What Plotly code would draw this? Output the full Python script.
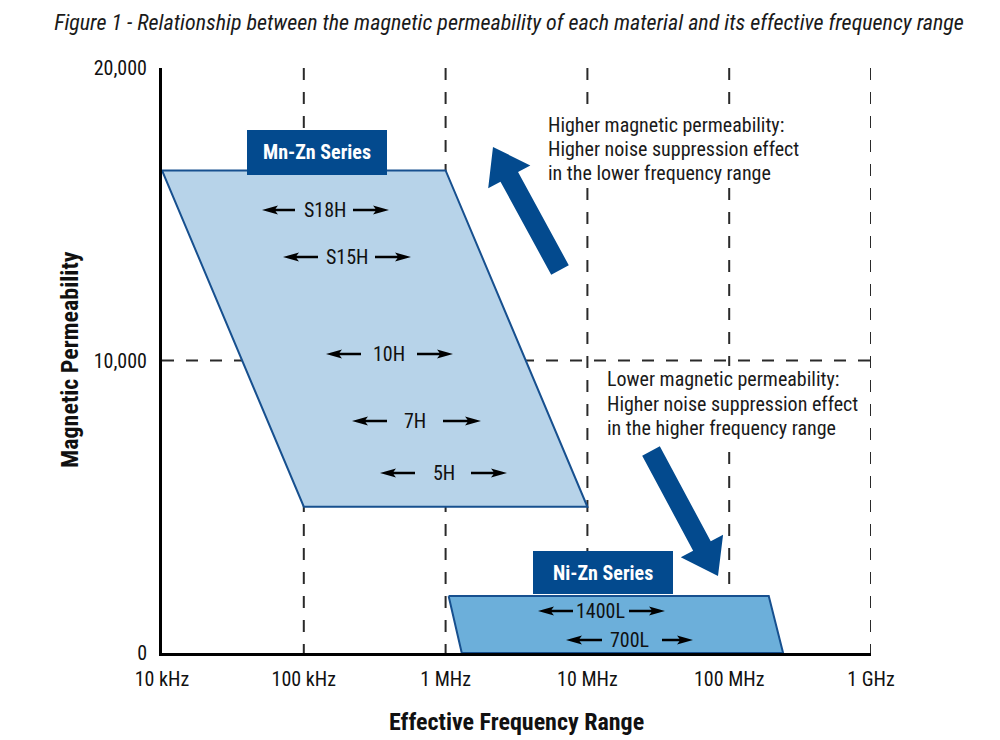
import math
import plotly.graph_objects as go

# ---------------- data ----------------
freq_tickvals = [1e4, 1e5, 1e6, 1e7, 1e8, 1e9]
freq_ticktext = ["10 kHz", "100 kHz", "1 MHz", "10 MHz", "100 MHz", "1 GHz"]
perm_tickvals = [0, 10000, 20000]
perm_ticktext = ["0", "10,000", "20,000"]
grid_freqs = [1e5, 1e6, 1e7, 1e8, 1e9]
grid_perms = [10000]

mnzn_freq = [1e4, 1e6, 1e7, 1e5]
mnzn_perm = [16500, 16500, 5000, 5000]
nizn_freq = [1.05e6, 1.9e8, 2.4e8, 1.3e6]
nizn_perm = [1950, 1950, 0, 0]

mnzn_grades = ["S18H", "S15H", "10H", "7H", "5H"]
nizn_grades = ["1400L", "700L"]

title_text = "Figure 1 - Relationship between the magnetic permeability of each material and its effective frequency range"
x_title = "Effective Frequency Range"
y_title = "Magnetic Permeability"
note_high = ["Higher magnetic permeability:", "Higher noise suppression effect", "in the lower frequency range"]
note_low = ["Lower magnetic permeability:", "Higher noise suppression effect", "in the higher frequency range"]

# ---------------- layout helpers ----------------
OFF = 8                      # page body margin
W, H = 1000 - OFF, 740 - OFF
PL, PT, PR, PB = 162, 68, 871, 653   # plot area in page pixels
ML, MT = PL - OFF, PT - OFF
PW, PH = PR - PL, PB - PT
MR, MB = W - ML - PW, H - MT - PH
FONT = "Roboto Condensed, Roboto, sans-serif"
DARK = "#034a8e"


def px(x):
    return (x - PL) / PW


def py(y):
    return (PB - y) / PH


fig = go.Figure()
fig.add_trace(go.Scatter(
    x=mnzn_freq + [mnzn_freq[0]], y=mnzn_perm + [mnzn_perm[0]],
    mode="lines", fill="toself", fillcolor="#b7d3e9",
    line=dict(color="#17508f", width=2), hoverinfo="skip", showlegend=False))
fig.add_trace(go.Scatter(
    x=nizn_freq + [nizn_freq[0]], y=nizn_perm + [nizn_perm[0]],
    mode="lines", fill="toself", fillcolor="#6cafda",
    line=dict(color="#17508f", width=2), hoverinfo="skip", showlegend=False))

shapes = []
grid_line = dict(color="#2a2a2a", width=2, dash="12px,12px")
for f in grid_freqs:
    shapes.append(dict(type="line", xref="x", yref="y", x0=f, x1=f, y0=20000, y1=0,
                       layer="below", line=grid_line))
for p in grid_perms:
    shapes.append(dict(type="line", xref="x", yref="y", x0=1e4, x1=1e9, y0=p, y1=p,
                       layer="below", line=grid_line))

# white backgrounds behind the notes
for (x0, y0, x1, y1) in [(540, 110, 808, 188), (600, 366, 866, 441)]:
    shapes.append(dict(type="rect", xref="paper", yref="paper",
                       x0=px(x0), x1=px(x1), y0=py(y1), y1=py(y0),
                       fillcolor="white", line=dict(width=0), layer="above"))

# series label boxes
for (x0, y0, x1, y1) in [(247, 130, 387, 175), (533, 551, 673, 594)]:
    shapes.append(dict(type="rect", xref="paper", yref="paper",
                       x0=px(x0), x1=px(x1), y0=py(y1), y1=py(y0),
                       fillcolor=DARK, line=dict(width=0), layer="above"))


def arrow_path(tail, tip, shaft_half, head_half, head_len, notch=0.0):
    dx, dy = tip[0] - tail[0], tip[1] - tail[1]
    n = math.hypot(dx, dy)
    ux, uy = dx / n, dy / n
    nx, ny = -uy, ux
    bx, by = tip[0] - ux * head_len, tip[1] - uy * head_len
    kx, ky = bx + ux * notch, by + uy * notch
    pts = [
        (tail[0] + nx * shaft_half, tail[1] + ny * shaft_half),
        (kx + nx * shaft_half, ky + ny * shaft_half),
        (bx + nx * head_half, by + ny * head_half),
        tip,
        (bx - nx * head_half, by - ny * head_half),
        (kx - nx * shaft_half, ky - ny * shaft_half),
        (tail[0] - nx * shaft_half, tail[1] - ny * shaft_half),
    ]
    return "M " + " L ".join(f"{px(a):.5f},{py(b):.5f}" for a, b in pts) + " Z"


for tail, tip in [((560, 270), (493, 147)), ((651, 451), (718, 576))]:
    shapes.append(dict(type="path", xref="paper", yref="paper",
                       path=arrow_path(tail, tip, 10, 24, 34),
                       fillcolor=DARK, line=dict(width=0), layer="above"))

annotations = []
# axis titles
annotations.append(dict(text=y_title, xref="paper", yref="paper", x=px(70), y=py(360),
                        textangle=-90, showarrow=False, xanchor="center", yanchor="middle",
                        font=dict(family=FONT, size=24, color="#111", weight=700)))
annotations.append(dict(text=x_title, xref="paper", yref="paper", x=px(516), y=py(722),
                        showarrow=False, xanchor="center", yanchor="middle",
                        font=dict(family=FONT, size=24, color="#111", weight=700)))

# series labels
for txt, cx, cy in [("Mn-Zn Series", 317, 152), ("Ni-Zn Series", 603, 573)]:
    annotations.append(dict(text=txt, xref="paper", yref="paper", x=px(cx), y=py(cy),
                            showarrow=False, xanchor="center", yanchor="middle",
                            font=dict(family=FONT, size=20, color="white", weight=700)))

# notes
for lines, x0, ys in [(note_high, 546, [125, 149, 173]), (note_low, 605, [379, 404, 428])]:
    for line, yy in zip(lines, ys):
        annotations.append(dict(text=line, xref="paper", yref="paper", x=px(x0), y=py(yy),
                                showarrow=False, xanchor="left", yanchor="middle",
                                font=dict(family=FONT, size=20, color="#1a1a1a")))

# grade labels with arrows: (center, y, left tip, left tail, right tail, right tip)
grade_pos = [
    (325, 210, 262, 295, 353, 389),
    (347, 257, 283, 318, 375, 411),
    (389, 354, 326, 361, 417, 453),
    (415, 421, 352, 387, 443, 481),
    (444, 473, 380, 415, 471, 507),
    (600, 611, 538, 573, 629, 665),
    (629, 640, 566, 602, 662, 693),
]
for txt, (cx, cy, lt, ltl, rtl, rt) in zip(mnzn_grades + nizn_grades, grade_pos):
    annotations.append(dict(text=txt, xref="paper", yref="paper", x=px(cx), y=py(cy),
                            showarrow=False, xanchor="center", yanchor="middle",
                            font=dict(family=FONT, size=20, color="#111")))
    for tip, tail in [(lt, ltl), (rt, rtl)]:
        shapes.append(dict(type="path", xref="paper", yref="paper",
                           path=arrow_path((tail, cy), (tip, cy), 1.3, 4.5, 16, notch=2.5),
                           fillcolor="#000", line=dict(width=0), layer="above"))

fig.update_layout(
    width=W, height=H,
    margin=dict(l=ML, r=MR, t=MT, b=MB, pad=0),
    paper_bgcolor="white", plot_bgcolor="white",
    title=dict(text=title_text, x=(509 - OFF) / W, xanchor="center",
               y=1 - (22 - OFF) / H, yanchor="middle",
               font=dict(family=FONT, size=22, color="#1a1a1a", style="italic")),
    xaxis=dict(type="log", range=[4, 9], tickvals=freq_tickvals, ticktext=freq_ticktext,
               showgrid=False, zeroline=False, showline=True, linecolor="#000", linewidth=3,
               ticks="outside", ticklen=6, tickcolor="rgba(0,0,0,0)",
               tickfont=dict(family=FONT, size=20, color="#111")),
    yaxis=dict(range=[0, 20000], tickvals=perm_tickvals, ticktext=perm_ticktext,
               showgrid=False, zeroline=False, showline=True, linecolor="#000", linewidth=3,
               ticks="outside", ticklen=8, tickcolor="rgba(0,0,0,0)",
               tickfont=dict(family=FONT, size=20, color="#111")),
    shapes=shapes, annotations=annotations, showlegend=False,
)

fig.write_html("out.html")
